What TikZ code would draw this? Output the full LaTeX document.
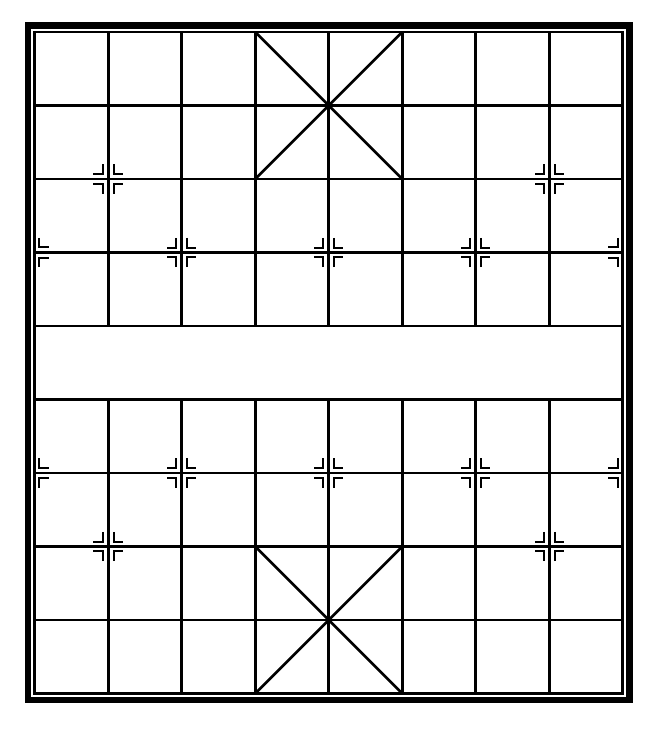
\documentclass[tikz,border=0pt]{standalone}
\begin{document}
\begin{tikzpicture}[x=1cm,y=1cm,
  gridline/.style={line width=1.05pt,black},
  frame/.style={line width=2.5pt,black},
  marker/.style={line width=0.8pt,black}]
\useasboundingbox (-0.472,-9.483) rectangle (8.494,0.435);
\fill[white] (-0.472,-9.483) rectangle (8.494,0.435);
% outer thick frame
\draw[frame] (-0.09,0.09) rectangle (8.09,-9.09);
% board border
\draw[gridline] (0,0) rectangle (8,-9);
% horizontal lines
\foreach \r in {1,...,8} \draw[gridline] (0,-\r) -- (8,-\r);
% vertical lines (not across the river)
\foreach \c in {1,...,7} {
  \draw[gridline] (\c,0) -- (\c,-4);
  \draw[gridline] (\c,-5) -- (\c,-9);
}
% palaces
\draw[gridline] (3,0) -- (5,-2);
\draw[gridline] (5,0) -- (3,-2);
\draw[gridline] (3,-7) -- (5,-9);
\draw[gridline] (5,-7) -- (3,-9);
% full markers
\foreach \c/\r in {1/2,7/2,1/7,7/7,2/3,4/3,6/3,2/6,4/6,6/6}
  \foreach \sx in {-1,1}
    \foreach \sy in {-1,1}
      \draw[marker] ({\c+\sx*0.075},{-\r+\sy*0.2}) -- ({\c+\sx*0.075},{-\r+\sy*0.062}) -- ({\c+\sx*0.2},{-\r+\sy*0.062});
% edge markers (left side: right half only; right side: left half only)
\foreach \c/\sx in {0/1,8/-1}
  \foreach \r in {3,6}
    \foreach \sy in {-1,1}
      \draw[marker] ({\c+\sx*0.06},{-\r+\sy*0.2}) -- ({\c+\sx*0.06},{-\r+\sy*0.07}) -- ({\c+\sx*0.2},{-\r+\sy*0.07});
\end{tikzpicture}
\end{document}
